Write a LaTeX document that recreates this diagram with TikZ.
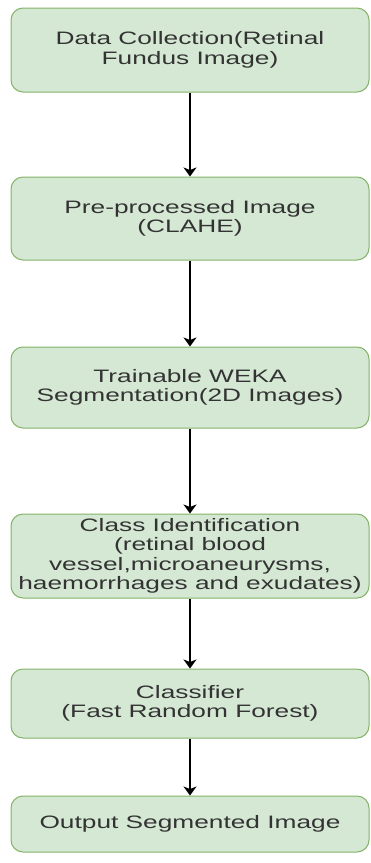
\documentclass[tikz,border=0pt]{standalone}
\usepackage{fontspec}
\setmainfont[FakeStretch=1.46]{Liberation Sans}
\usetikzlibrary{arrows.meta}
\definecolor{boxfill}{HTML}{D5E8D4}
\definecolor{boxline}{HTML}{82B366}
\definecolor{txt}{HTML}{333333}
\begin{document}
\begin{tikzpicture}[x=1pt,y=-1pt,
  stage/.style={draw=boxline, fill=boxfill, line width=1pt, rounded corners=12pt,
    minimum width=358pt, align=center, inner sep=0pt, text=txt,
    font=\fontsize{18}{19.5}\selectfont},
  flow/.style={-{Stealth[length=9pt,width=13pt,inset=2.5pt]}, line width=1.3pt}]
\useasboundingbox (0,0) rectangle (370,863);
\node[stage, minimum height=84pt] (a) at (190,50) {Data Collection(Retinal\\Fundus Image)};
\node[stage, minimum height=83pt] (b) at (190,218.5) {Pre-processed Image\\(CLAHE)};
\node[stage, minimum height=81pt] (c) at (190,387.5) {Trainable WEKA\\Segmentation(2D Images)};
\node[stage, minimum height=84pt] (d) at (190,556) {Class Identification\\(retinal blood\\vessel,microaneurysms,\\haemorrhages and exudates)};
\node[stage, minimum height=69pt] (e) at (190,703.5) {Classifier\\(Fast Random Forest)};
\node[stage, minimum height=56pt] (f) at (190,824) {Output Segmented Image};
\draw[flow] (a) -- (b);
\draw[flow] (b) -- (c);
\draw[flow] (c) -- (d);
\draw[flow] (d) -- (e);
\draw[flow] (e) -- (f);
\end{tikzpicture}
\end{document}
